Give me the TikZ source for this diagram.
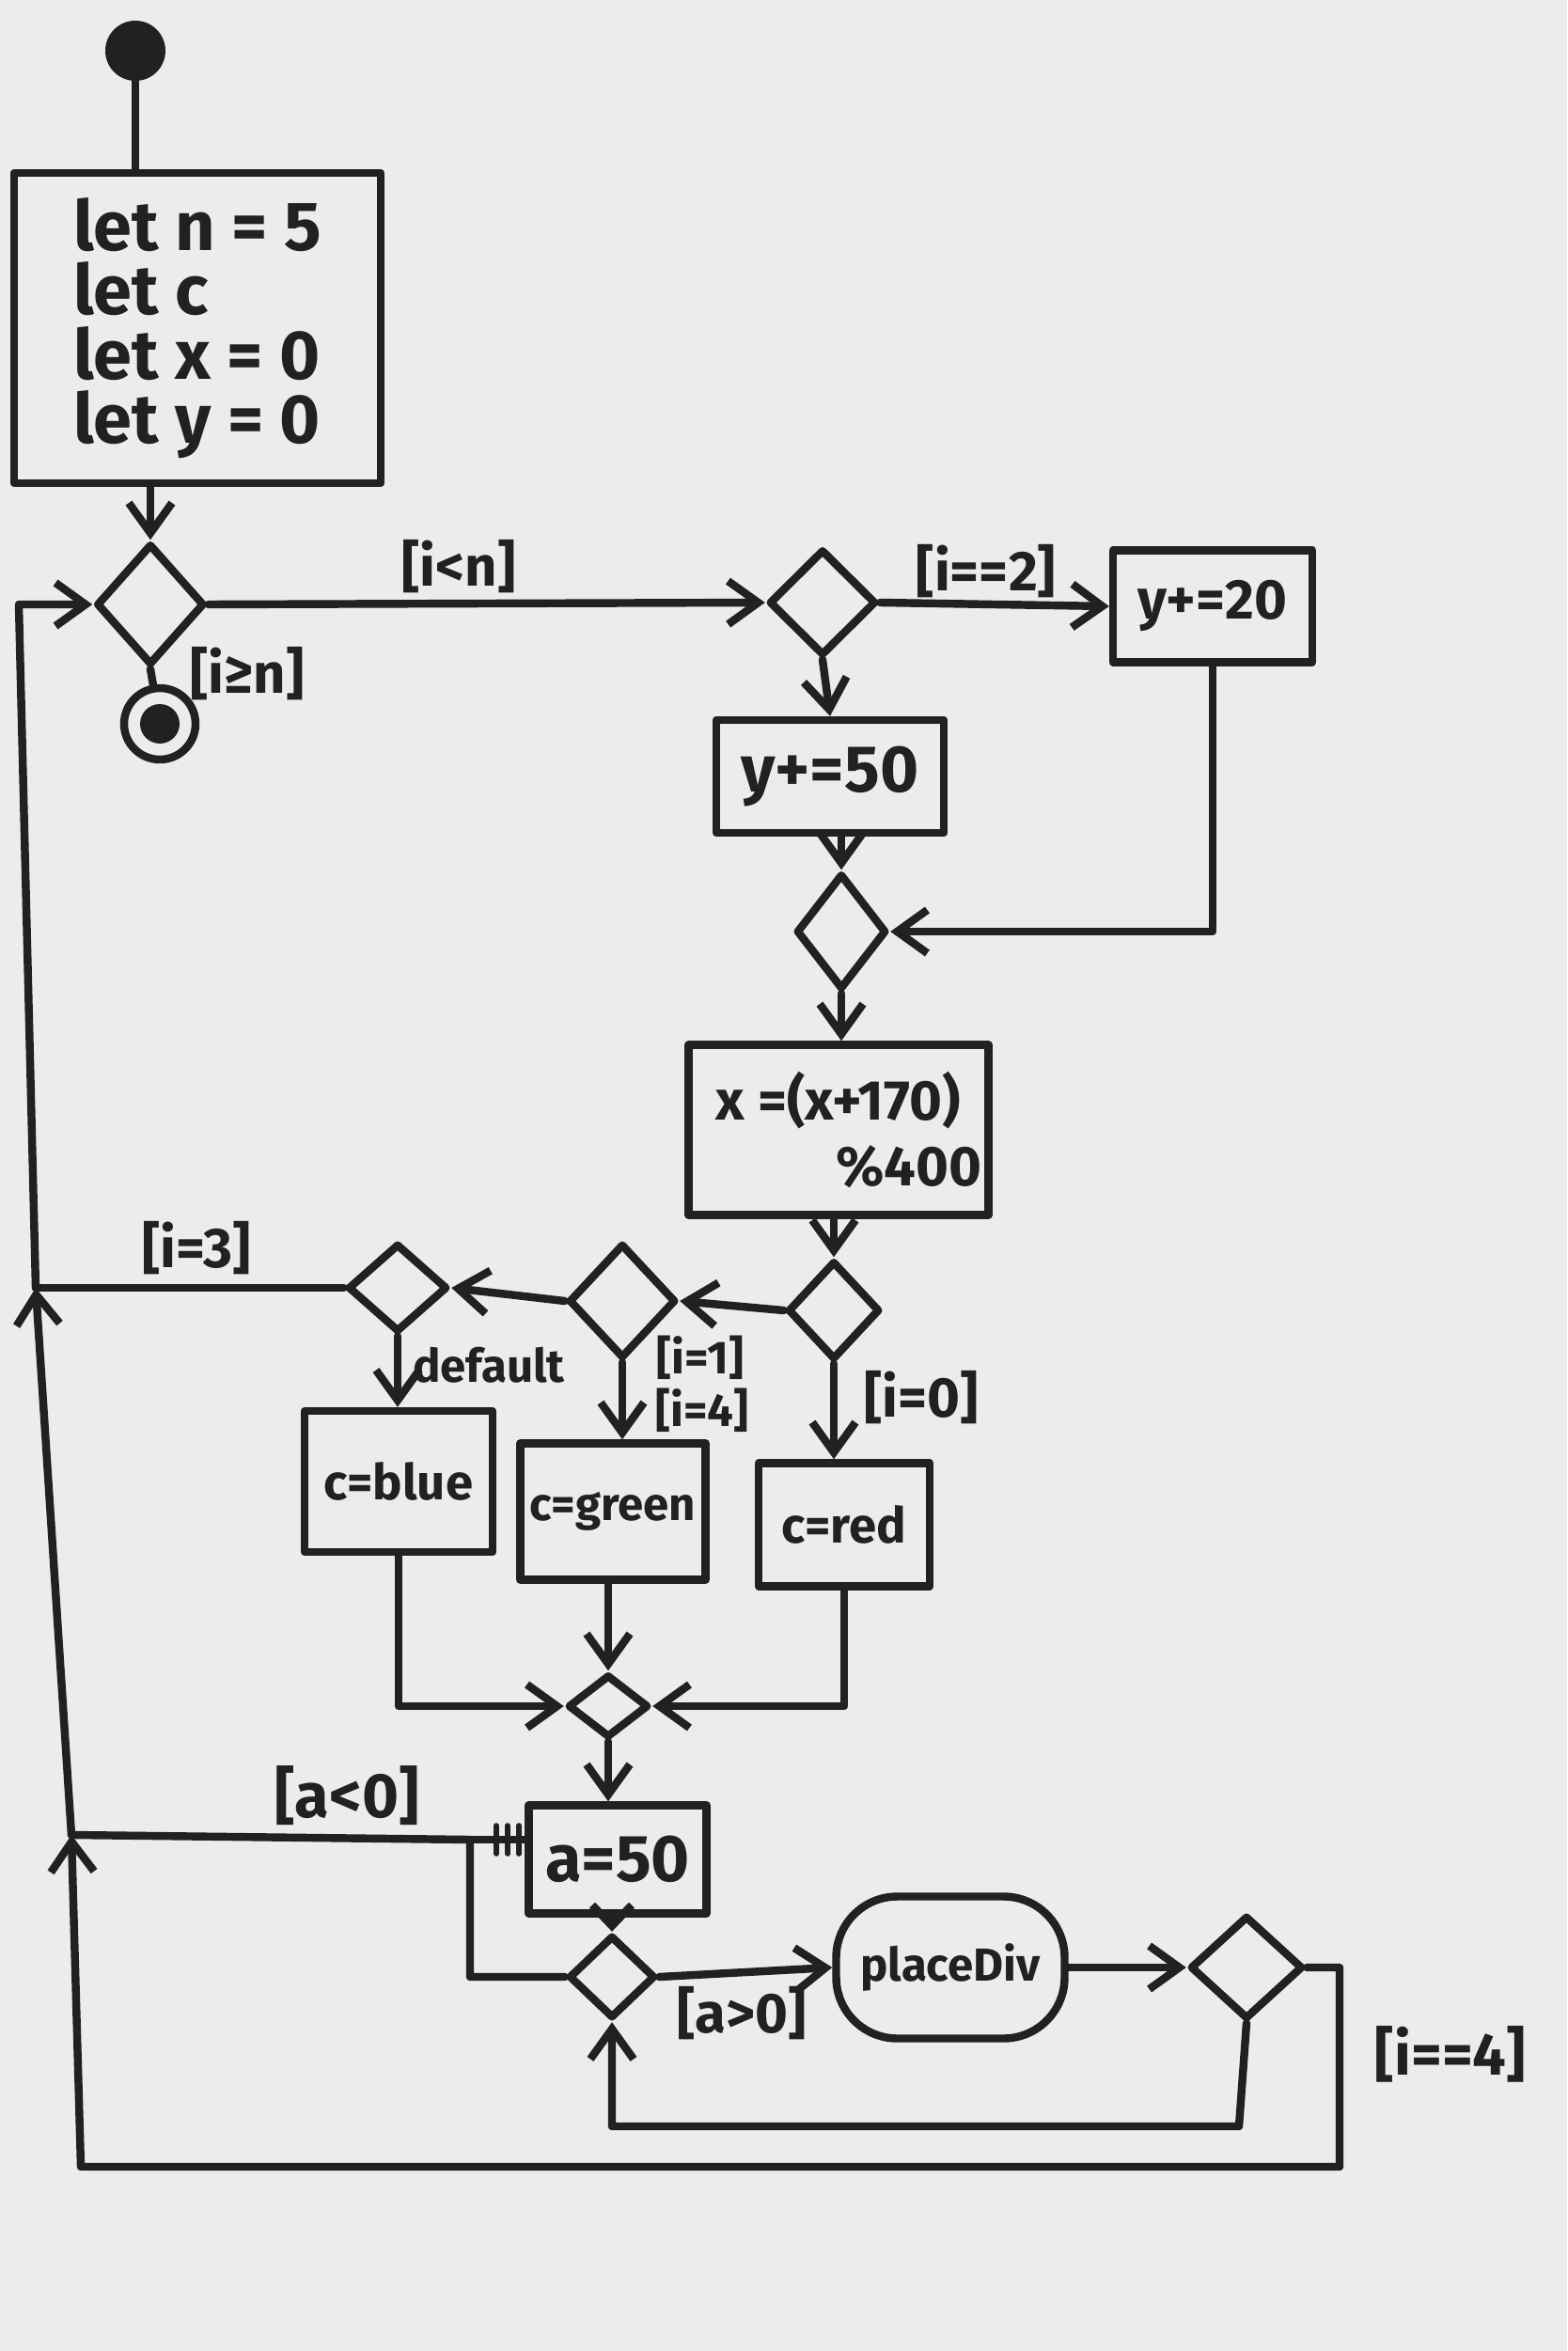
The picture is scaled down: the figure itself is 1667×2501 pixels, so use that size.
\documentclass[tikz,border=0pt]{standalone}
\usepackage{fontspec}
\setmainfont{Fira Sans}
\usetikzlibrary{arrows.meta,shapes.geometric}
\definecolor{ink}{rgb}{0.13,0.13,0.13}
\definecolor{paper}{rgb}{0.925,0.925,0.925}

\begin{document}
\begin{tikzpicture}[x=0.1mm, y=-0.1mm, >={Straight Barb[length=3.2mm,width=4.6mm]},
  line cap=round, line join=round,
  line/.style={draw=ink, line width=2.4pt},
  flow/.style={line, ->},
  act/.style={draw=ink, line width=2.4pt, inner sep=0pt, text=ink, font=\bfseries\fontsize{20}{22}\selectfont},
  dec/.style={diamond, draw=ink, line width=2.4pt, inner sep=0pt},
  guard/.style={text=ink, inner sep=0pt, font=\bfseries\fontsize{17}{19}\selectfont},
  startnode/.style={circle, fill=ink, inner sep=0pt, minimum size=6.4mm},
  stopnode/.style={circle, draw=ink, line width=2.4pt, inner sep=0pt, minimum size=7.6mm,
    path picture={\fill[ink] (path picture bounding box.center) circle (2.1mm);}}]
% 背景
\fill[paper] (0,0) rectangle (1667,2501);
\useasboundingbox (0,0) rectangle (1667,2501);
% 节点
\node[startnode] (start) at (144,54) {};
\node[act, minimum width=3.9cm, minimum height=3.3cm, align=left,
  font=\bfseries\fontsize{21}{19.5}\selectfont] (init) at (210,349) {let n = 5\\let c\\let x = 0\\let y = 0};
\node[dec, minimum width=1.15cm, minimum height=1.29cm] (d1) at (160,643) {};
\node[stopnode] (stop) at (170,770) {};
\node[dec, minimum width=1.14cm, minimum height=1.13cm] (d2) at (875,641) {};
\node[act, minimum width=2.12cm, minimum height=1.19cm, font=\bfseries\fontsize{17}{19}\selectfont] (b20) at (1290,645) {y+=20};
\node[act, minimum width=2.42cm, minimum height=1.2cm] (b50) at (883,826) {y+=50};
\node[dec, minimum width=0.96cm, minimum height=1.23cm] (d3) at (895,991) {};
\node[act, minimum width=3.19cm, minimum height=1.81cm, align=center,
  font=\bfseries\fontsize{17}{20}\selectfont] (bx) at (892,1202) {x =(x+170)\\\hspace*{2.5em}\%400};
\node[dec, minimum width=0.98cm, minimum height=1.05cm] (d4) at (887,1394) {};
\node[dec, minimum width=1.14cm, minimum height=1.22cm] (d5) at (662,1384) {};
\node[dec, minimum width=1.06cm, minimum height=0.94cm] (d6) at (423,1370) {};
\node[act, minimum width=2.0cm, minimum height=1.5cm, font=\bfseries\fontsize{15}{17}\selectfont] (blue) at (424,1576) {c=blue};
\node[act, minimum width=1.97cm, minimum height=1.45cm, font=\bfseries\fontsize{14}{16}\selectfont] (green) at (652,1608) {c=green};
\node[act, minimum width=1.82cm, minimum height=1.31cm, font=\bfseries\fontsize{15}{17}\selectfont] (red) at (898,1622) {c=red};
\node[dec, minimum width=0.86cm, minimum height=0.67cm] (d7) at (647,1815) {};
\node[act, minimum width=1.89cm, minimum height=1.15cm] (ba) at (657,1978) {a=50};
\node[dec, minimum width=0.92cm, minimum height=0.88cm] (d8) at (651,2103) {};
\node[act, rounded corners=6.5mm, minimum width=2.43cm, minimum height=1.51cm,
  font=\bfseries\fontsize{14}{16}\selectfont] (place) at (1011,2093) {placeDiv};
\node[dec, minimum width=1.2cm, minimum height=1.1cm] (d9) at (1326,2093) {};
% 左侧回路
\coordinate (tl) at (20,643);
\coordinate (j1) at (38,1370);
\coordinate (j2) at (76,1952);
\coordinate (bl) at (86,2305);
\coordinate (br) at (1425,2305);
\coordinate (ak) at (500,1957);
\coordinate (lp) at (1318,2262);
% 连线
\draw[line] (start) -- (start |- init.north);
\draw[flow] (d1 |- init.south) -- (d1.north);
\draw[line] (d1.south) -- (stop);
\draw[flow] (d1.east) -- (d2.west);
\draw[flow] (d2.east) -- (b20.west);
\draw[flow] (d2.south) -- (b50.north);
\draw[flow] (b50.south -| d3) -- (d3.north);
\draw[flow] (b20.south) |- (d3.east);
\draw[flow] (d3.south) -- (bx.north -| d3);
\draw[flow] (bx.south -| d4) -- (d4.north);
\draw[flow] (d4.west) -- (d5.east);
\draw[flow] (d5.west) -- (d6.east);
\draw[line] (d6.west) -- (j1);
\draw[flow] (d6.south) -- (blue.north -| d6);
\draw[flow] (d5.south) -- (green.north -| d5);
\draw[flow] (d4.south) -- (red.north -| d4);
\draw[flow] (blue.south) |- (d7.west);
\draw[flow] (d7 |- green.south) -- (d7.north);
\draw[flow] (red.south) |- (d7.east);
\draw[flow] (d7.south) -- (ba.north -| d7);
\draw[line, -{Straight Barb[length=2.2mm,width=4.2mm]}] (ba.south -| d8) -- (d8.north);
\draw[line] (d8.west) -| (ak) -- (j2);
\draw[line] (ak) -- (ak -| ba.west);
\foreach \t in {528,540,552}
  \draw[line, line width=1.6pt] (\t,1942) -- (\t,1972);
\draw[flow] (d8.east) -- (place.west);
\draw[flow] (place.east) -- (d9.west);
\draw[flow] (d9.south) -- (lp) -| (d8.south);
\draw[flow] (d9.east) -| (br) -- (bl) -- (j2);
\draw[flow] (j2) -- (j1);
\draw[flow] (j1) -- (tl) -- (d1.west);
% 条件
\node[guard] (gin) at (488,603) {[i<n]};
\node[guard] (gout) at (263,717) {[i≥n]};
\node[guard] (gtwo) at (1049,608) {[i==2]};
\node[guard] (gthree) at (209,1328) {[i=3]};
\node[guard, font=\bfseries\fontsize{14}{16}\selectfont] (gdef) at (520,1452) {default};
\node[guard, font=\bfseries\fontsize{14}{16}\selectfont] (gone) at (745,1444) {[i=1]};
\node[guard, font=\bfseries\fontsize{14}{16}\selectfont] (gfour) at (747,1500) {[i=4]};
\node[guard] (gzero) at (980,1487) {[i=0]};
\node[guard, font=\bfseries\fontsize{19}{21}\selectfont] (gneg) at (369,1910) {[a<0]};
\node[guard] (gpos) at (789,2142) {[a>0]};
\node[guard, font=\bfseries\fontsize{18}{20}\selectfont] (gend) at (1543,2185) {[i==4]};
\end{tikzpicture}
\end{document}
